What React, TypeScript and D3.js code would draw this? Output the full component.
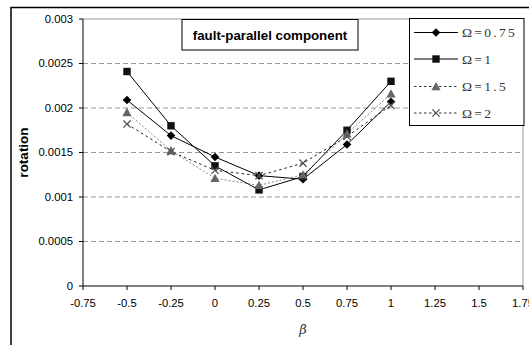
import React from "react";
import * as d3 from "d3";

const betas = [-0.5, -0.25, 0, 0.25, 0.5, 0.75, 1];
const omega075 = [0.00209, 0.00169, 0.00145, 0.00124, 0.0012, 0.00159, 0.00207];
const omega1 = [0.00241, 0.0018, 0.00135, 0.00108, 0.00123, 0.00175, 0.0023];
const omega15 = [0.00195, 0.00152, 0.00121, 0.00113, 0.00125, 0.00171, 0.00216];
const omega2 = [0.00182, 0.00151, 0.0013, 0.00124, 0.00138, 0.00168, 0.00203];
const seriesNames = ["Ω=0.75", "Ω=1", "Ω=1.5", "Ω=2"];
const xTicks = [-0.75, -0.5, -0.25, 0, 0.25, 0.5, 0.75, 1, 1.25, 1.5, 1.75];
const yTicks = [0, 0.0005, 0.001, 0.0015, 0.002, 0.0025, 0.003];
const yTickLabels = ["0", "0.0005", "0.001", "0.0015", "0.002", "0.0025", "0.003"];
const xTickLabels = ["-0.75", "-0.5", "-0.25", "0", "0.25", "0.5", "0.75", "1", "1.25", "1.5", "1.75"];

const W = 529, H = 345;
const L = 83, R = 523, T = 19, B = 286;

type Style = { stroke: string; dash: string | null; marker: string; fill: string };
const styles: Style[] = [
  { stroke: "#000", dash: null, marker: "diamond", fill: "#000" },
  { stroke: "#000", dash: null, marker: "square", fill: "#111" },
  { stroke: "#888", dash: "2,2", marker: "triangle", fill: "#666" },
  { stroke: "#222", dash: "2.5,3", marker: "x", fill: "#555" },
];

function Marker({ type, x, y, fill }: { type: string; x: number; y: number; fill: string }) {
  if (type === "diamond") {
    const s = 4.3;
    return <path d={`M${x},${y - s}L${x + s},${y}L${x},${y + s}L${x - s},${y}Z`} fill={fill} />;
  }
  if (type === "square") {
    const s = 3.7;
    return <rect x={x - s} y={y - s} width={2 * s} height={2 * s} fill={fill} />;
  }
  if (type === "triangle") {
    const s = 4.6;
    return <path d={`M${x},${y - s}L${x + s},${y + s * 0.8}L${x - s},${y + s * 0.8}Z`} fill={fill} />;
  }
  const s = 3.6;
  return (
    <path d={`M${x - s},${y - s}L${x + s},${y + s}M${x - s},${y + s}L${x + s},${y - s}`} stroke={fill} strokeWidth={1.3} fill="none" />
  );
}

export default function App() {
  const x = d3.scaleLinear().domain([-0.75, 1.75]).range([L, R]);
  const y = d3.scaleLinear().domain([0, 0.003]).range([B, T]);
  const data = [omega075, omega1, omega15, omega2];
  const line = d3.line<number>().x((_, i) => x(betas[i])).y((d) => y(d));
  const legendY = [32.5, 59, 86.5, 113];
  const font = "Arial, 'Liberation Sans', sans-serif";

  return (
    <svg width={W} height={H} style={{ position: "absolute", left: 0, top: 0, background: "#fff" }}>
      <rect x={0} y={0} width={W} height={H} fill="#fff" />
      <rect x={11} y={7.5} width={W + 20} height={H + 20} fill="none" stroke="#000" strokeWidth={1.5} />
      {/* plot frame */}
      <line x1={L} x2={R} y1={T} y2={T} stroke="#999" strokeWidth={1} />
      <line x1={R} x2={R} y1={T} y2={B} stroke="#999" strokeWidth={1} />
      {/* gridlines */}
      {yTicks.slice(1, -1).map((t) => (
        <line key={t} x1={L} x2={R} y1={y(t)} y2={y(t)} stroke="#999" strokeDasharray="5,3" strokeWidth={1} />
      ))}
      {/* axes */}
      <line x1={L} x2={L} y1={T} y2={B} stroke="#000" strokeWidth={1} />
      <line x1={L} x2={R} y1={B} y2={B} stroke="#000" strokeWidth={1} />
      {yTicks.map((t, i) => (
        <g key={t}>
          <line x1={L - 4} x2={L} y1={y(t)} y2={y(t)} stroke="#000" />
          <text x={L - 10} y={y(t)} dy="0.35em" textAnchor="end" fontFamily={font} fontSize={11.3}>
            {yTickLabels[i]}
          </text>
        </g>
      ))}
      {xTicks.map((t, i) => (
        <g key={t}>
          <line x1={x(t)} x2={x(t)} y1={B} y2={B + 4} stroke="#000" />
          <text x={x(t)} y={B + 21} textAnchor="middle" fontFamily={font} fontSize={11.3}>
            {xTickLabels[i]}
          </text>
        </g>
      ))}
      {/* series */}
      {data.map((vals, si) => (
        <path key={si} d={line(vals) || ""} fill="none" stroke={styles[si].stroke} strokeWidth={1} strokeDasharray={styles[si].dash || undefined} />
      ))}
      {data.map((vals, si) =>
        vals.map((v, i) => <Marker key={`${si}-${i}`} type={styles[si].marker} x={x(betas[i])} y={y(v)} fill={styles[si].fill} />)
      )}
      {/* title box */}
      <rect x={182} y={19.5} width={176} height={30.5} fill="#fff" stroke="#000" strokeWidth={1} />
      <text x={270} y={35} dy="0.35em" textAnchor="middle" fontFamily={font} fontSize={13.3} fontWeight="bold">
        fault-parallel component
      </text>
      {/* legend */}
      <rect x={409.5} y={18.5} width={114.5} height={107} fill="#fff" stroke="#000" strokeWidth={1} />
      {seriesNames.map((n, i) => (
        <g key={n}>
          <line x1={414} x2={458} y1={legendY[i]} y2={legendY[i]} stroke={i >= 2 ? "#333" : "#000"} strokeWidth={1} strokeDasharray={i >= 2 ? "2.5,2.5" : undefined} />
          <Marker type={styles[i].marker} x={436} y={legendY[i]} fill={styles[i].fill} />
          <text x={462} y={legendY[i]} dy="0.35em" fontFamily="'Liberation Serif', serif" fontSize={13.5} fill="#333" letterSpacing={2.3}>
            {n}
          </text>
        </g>
      ))}
      {/* axis titles */}
      <text transform={`translate(23,${(T + B) / 2}) rotate(-90)`} textAnchor="middle" dy="0.35em" fontFamily={font} fontSize={13.5} fontWeight="bold">
        rotation
      </text>
      <text x={x(0.5)} y={329} dy="0.35em" textAnchor="middle" fontFamily="'DejaVu Serif', serif" fontStyle="italic" fontSize={13} fill="#333">
        β
      </text>
    </svg>
  );
}
